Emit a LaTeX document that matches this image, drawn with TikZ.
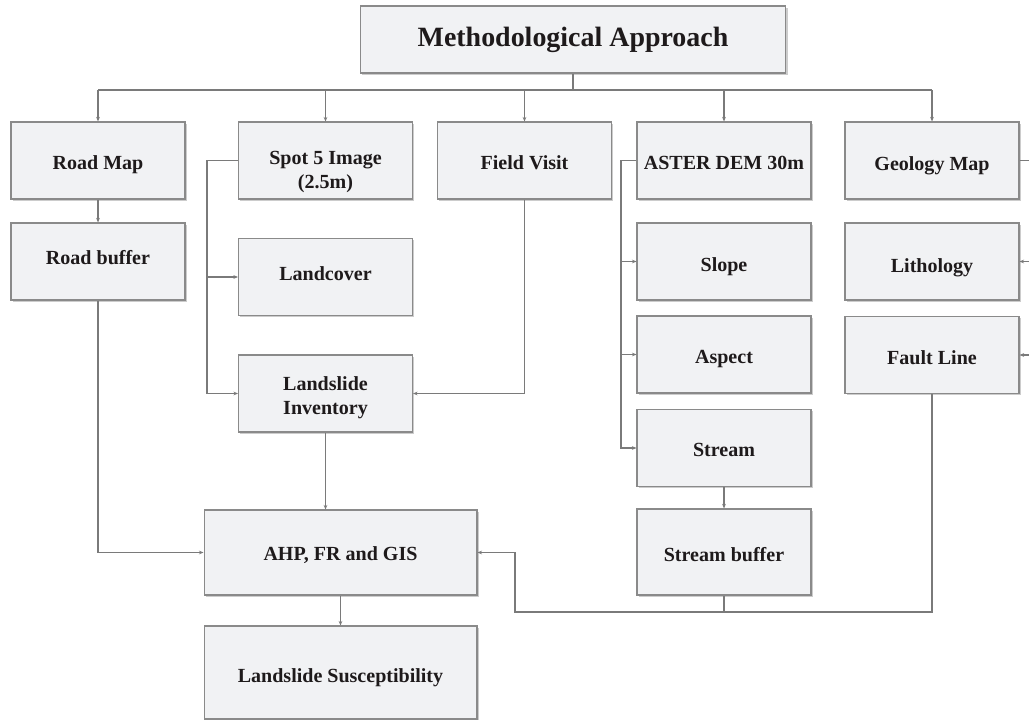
\documentclass[tikz,border=0pt]{standalone}
\usepackage{fontspec}
\setmainfont{Liberation Serif}
\usetikzlibrary{arrows.meta,shadows}
\definecolor{boxfill}{HTML}{F1F2F4}
\definecolor{boxdraw}{HTML}{8A8A8A}
\definecolor{linec}{HTML}{7A7A7A}
\definecolor{txt}{HTML}{1E1A1B}
\newcommand{\twol}[2]{\begin{tabular}{@{}c@{}}#1\\#2\end{tabular}}
\newcommand{\shtxt}[2]{\raisebox{#1}[\height][\depth]{#2}}
\tikzset{
  box/.style={draw=boxdraw, line width=0.6pt, fill=boxfill, inner sep=0pt,
    minimum width=3.48cm, minimum height=1.54cm, align=center, text=txt,
    font=\fontsize{11.4}{13.7}\selectfont\bfseries,
    drop shadow={shadow xshift=0.9pt, shadow yshift=-0.9pt, fill=black!40, opacity=0.5}},
  titlebox/.style={box, minimum width=8.52cm, minimum height=1.34cm,
    font=\fontsize{15.9}{18}\selectfont\bfseries},
  wide/.style={minimum width=5.46cm},
  conn/.style={draw=linec, line width=0.6pt},
  arr/.style={conn, -{Stealth[length=2.6pt,width=2.1pt]}}
}
\begin{document}
\begin{tikzpicture}[x=0.02cm, y=-0.02cm]
\useasboundingbox (0,0) rectangle (1029,720);
% nodes
\node[titlebox] (title) at (573,39.5) {Methodological Approach};
\node[box] (road) at (98,160.5) {\shtxt{-0.08cm}{Road Map}};
\node[box] (spot) at (325.5,160.5) {\shtxt{-0.23cm}{\twol{Spot 5 Image}{(2.5m)}}};
\node[box] (field) at (524.5,160.5) {\shtxt{-0.04cm}{Field Visit}};
\node[box] (aster) at (724,160.5) {\shtxt{-0.04cm}{ASTER DEM 30m}};
\node[box] (geo) at (932,160.5) {\shtxt{-0.1cm}{Geology Map}};
\node[box] (roadbuf) at (98,261.5) {\shtxt{0.08cm}{Road buffer}};
\node[box] (landcover) at (325.5,277) {\shtxt{0.06cm}{Landcover}};
\node[box] (inventory) at (325.5,393.5) {\shtxt{-0.08cm}{\twol{Landslide}{Inventory}}};
\node[box] (slope) at (724,261.5) {\shtxt{-0.1cm}{Slope}};
\node[box] (aspect) at (724,354.5) {\shtxt{-0.1cm}{Aspect}};
\node[box] (stream) at (724,448) {\shtxt{-0.04cm}{Stream}};
\node[box, minimum height=1.72cm] (streambuf) at (724,552) {\shtxt{-0.06cm}{Stream buffer}};
\node[box] (litho) at (932,261.5) {\shtxt{-0.12cm}{Lithology}};
\node[box] (fault) at (932,355) {\shtxt{-0.06cm}{Fault Line}};
\node[box, wide, minimum height=1.70cm] (ahp) at (340.5,552.5) {\shtxt{-0.06cm}{AHP, FR and GIS}};
\node[box, wide, minimum height=1.86cm] (susc) at (340.5,672.5) {\shtxt{-0.1cm}{Landslide Susceptibility}};
% helper coordinates
\coordinate (bus) at (0,90);
\coordinate (spx) at (207,0);
\coordinate (ax) at (621,0);
\coordinate (bj) at (0,612);
\coordinate (bx) at (515,612);
\coordinate (re) at (1029,0);
% top bus
\draw[conn] (title.south) -- (title.south |- bus);
\draw[conn] (road.north |- bus) -- (geo.north |- bus);
\foreach \n in {road,spot,field,aster,geo}
  \draw[arr] (\n.north |- bus) -- (\n.north);
% left column
\draw[arr] (road) -- (roadbuf);
\draw[arr] (roadbuf.south) |- (ahp.west);
% spot branch
\draw[arr] (spot.west) -- (spot.west -| spx) |- (inventory.west);
\draw[arr] (landcover.west -| spx) -- (landcover.west);
\draw[arr] (field.south) |- (inventory.east);
\draw[arr] (inventory.south) -- (inventory.south |- ahp.north);
\draw[arr] (ahp) -- (susc);
% aster branch
\draw[arr] (aster.west) -- (aster.west -| ax) |- (stream.west);
\draw[arr] (slope.west -| ax) -- (slope.west);
\draw[arr] (aspect.west -| ax) -- (aspect.west);
\draw[arr] (stream) -- (streambuf);
% bottom return
\draw[conn] (streambuf.south) -- (streambuf.south |- bj);
\draw[arr] (fault.south) |- (bx) |- (ahp.east);
% right side stubs
\draw[conn] (geo.east) -- (geo.east -| re);
\draw[arr] (litho.east -| re) -- (litho.east);
\draw[arr] (fault.east -| re) -- (fault.east);
\end{tikzpicture}
\end{document}
